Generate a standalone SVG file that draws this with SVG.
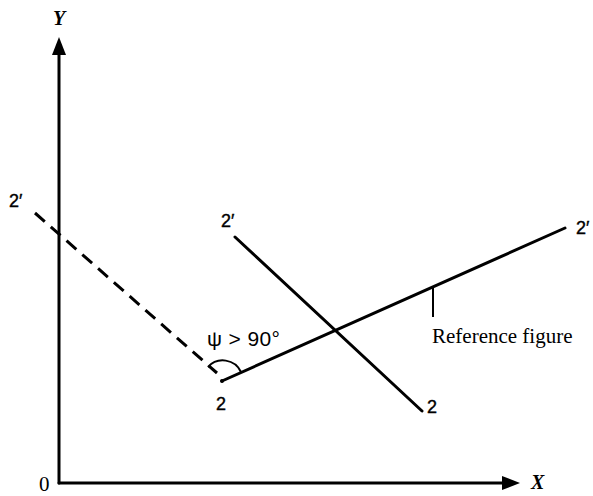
<svg xmlns="http://www.w3.org/2000/svg" width="593" height="496" viewBox="0 0 593 496">
<style>
.ln{stroke:#000;stroke-width:3;fill:none;stroke-linecap:round}
.dash{stroke:#000;stroke-width:3;fill:none;stroke-dasharray:13 8}
.thin{stroke:#000;stroke-width:2;fill:none}
.lbl{font-family:"Liberation Sans",Arial,sans-serif;font-size:18px;fill:#000;stroke:#000;stroke-width:0.4}
.ax{font-family:"Liberation Serif","Times New Roman",serif;font-style:italic;font-weight:bold;font-size:20px;fill:#000}
.ser{font-family:"Liberation Serif","Times New Roman",serif;font-size:21px;fill:#000}
</style>
<rect width="593" height="496" fill="#fff"/>
<g id="axes">
<line class="ln" x1="59" y1="483" x2="59" y2="50"/>
<polygon points="59,37 52,55 66,55" fill="#000"/>
<line class="ln" x1="59" y1="483" x2="506" y2="483"/>
<polygon points="520,483 502,476 502,490" fill="#000"/>
<text class="ax" x="531" y="489">X</text>
<text class="ax" x="53" y="25">Y</text>
<text class="ser" x="39" y="491" font-size="19">0</text>
</g>
<g id="connectors">
<line class="dash" x1="35" y1="213" x2="217" y2="373"/>
<line class="ln" x1="222" y1="381" x2="565" y2="228"/>
<line class="ln" x1="235" y1="237" x2="422" y2="411"/>
<line class="thin" x1="433" y1="287" x2="433" y2="317"/>
<path class="thin" d="M 208 367 A 20 20 0 0 1 241 372"/>
<circle cx="222" cy="381" r="2" fill="#000"/>
</g>
<g id="labels">
<text class="lbl" x="9" y="207">2′</text>
<text class="lbl" x="221" y="227">2′</text>
<text class="lbl" x="576" y="234">2′</text>
<text class="lbl" x="216" y="410">2</text>
<text class="lbl" x="427" y="413">2</text>
<text x="207" y="346" font-family="'Liberation Sans',Arial,sans-serif" font-size="21" fill="#000" textLength="73">ψ &gt; 90°</text>
<text class="ser" x="432" y="343">Reference figure</text>
</g>
</svg>
